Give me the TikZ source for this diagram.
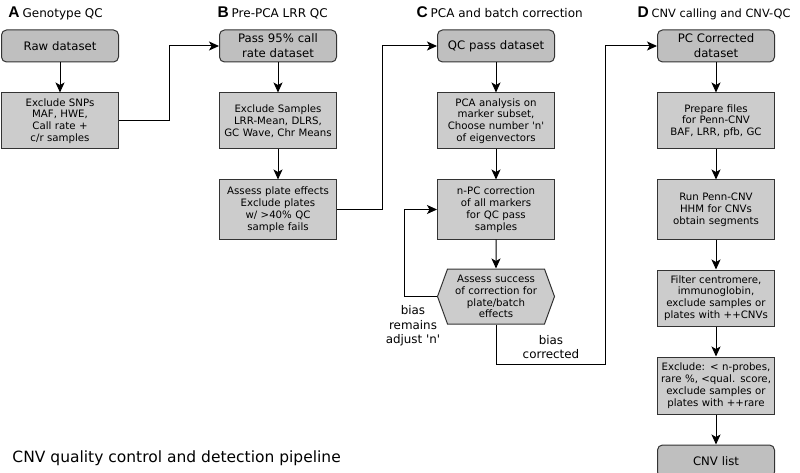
\documentclass[tikz,border=0pt]{standalone}
\usepackage{fontspec}
\setmainfont{DejaVu Sans}
\newfontfamily\letterfont{Liberation Sans}
\usepackage{tikz}
\usetikzlibrary{arrows.meta,positioning,shapes.symbols}
\definecolor{boxgray}{gray}{0.80}
\definecolor{topgray}{gray}{0.75}
\definecolor{edgegray}{gray}{0.2}
\tikzset{
    %Define standard arrow tip
    >={Stealth[length=10pt,width=9pt,inset=2.5pt]},
    % Define arrow style
    pil/.style={
           ->,
           line width=1pt},
    %Define style for the rounded data boxes
    datenbox/.style={
           rectangle,
           rounded corners=5pt,
           draw=edgegray, line width=1pt,
           fill=topgray,
           text width=115pt,
           minimum height=32pt,
           inner sep=1pt,
           align=center,
           font=\fontsize{11.7}{15}\selectfont},
    %Define style for the step boxes
    schritt/.style={
           rectangle,
           draw=edgegray, line width=1pt,
           fill=boxgray,
           text width=115pt,
           minimum height=56pt,
           inner sep=1pt,
           align=center,
           font=\fontsize{10.2}{11.8}\selectfont},
    % Define style for the decision hexagon
    pruefung/.style={
           signal, signal to=west and east,
           signal pointer angle=140,
           draw=edgegray, line width=1pt,
           fill=boxgray,
           minimum width=117pt,
           minimum height=55pt,
           text width=95pt,
           inner sep=0pt,
           align=center,
           font=\fontsize{10.2}{11.8}\selectfont},
    % Define header and label styles
    kopf/.style={anchor=base west, inner sep=0pt, font=\fontsize{12}{15}\selectfont},
    marke/.style={align=center, inner sep=0pt, font=\fontsize{11.9}{14.5}\selectfont}
}
\newcommand{\panel}[1]{{\letterfont\bfseries\fontsize{15.5}{18}\selectfont #1}\hspace{3pt}}

\begin{document}
\begin{tikzpicture}[pil,x=1pt,y=-1pt,node distance=30pt]
  \useasboundingbox (0,0) rectangle (800,473);

  % headers
  \node[kopf] (hA) at (8,18) {\panel{A}Genotype QC};
  \node[kopf] (hB) at (217,18) {\panel{B}Pre-PCA LRR QC};
  \node[kopf] (hC) at (416,18) {\panel{C}PCA and batch correction};
  \node[kopf,font=\fontsize{11.4}{15}\selectfont] (hD) at (637,18) {\panel{D}CNV calling and CNV-QC};

  % A: genotype QC
  \node[datenbox] (raw) at (60,46) {Raw dataset};
  \node[schritt] (exsnp) [below=of raw] {Exclude SNPs\\MAF, HWE,\\Call rate +\\c/r samples};

  % B: pre-PCA LRR QC
  \node[datenbox] (pass) at (278,46) {Pass 95\% call\\rate dataset};
  \node[schritt] (exsam) [below=of pass] {Exclude Samples\\LRR-Mean, DLRS,\\GC Wave, Chr Means};
  \node[schritt,minimum height=59pt] (plate) [below=of exsam] {Assess plate effects\\Exclude plates\\w/ >40\% QC\\sample fails};

  % C: PCA and batch correction
  \node[datenbox] (qcpass) at (496,46) {QC pass dataset};
  \node[schritt] (pca) [below=of qcpass] {PCA analysis on\\marker subset,\\Choose number \textquotesingle n\textquotesingle\\of eigenvectors};
  \node[schritt,minimum height=59pt] (npc) [below=of pca] {n-PC correction\\of all markers\\for QC pass\\samples};
  \node[pruefung] (assess) [below=29pt of npc] {Assess success\\of correction for\\plate/batch\\effects};

  % D: CNV calling and CNV-QC
  \node[datenbox] (pccorr) at (716,46) {PC Corrected\\dataset};
  \node[schritt] (prep) [below=of pccorr] {Prepare files\\for Penn-CNV\\BAF, LRR, pfb, GC};
  \node[schritt,minimum height=59pt] (penn) [below=of prep] {Run Penn-CNV\\HHM for CNVs\\obtain segments};
  \node[schritt] (filt) [below=of penn] {Filter centromere,\\immunoglobin,\\exclude samples or\\plates with ++CNVs};
  \node[schritt,minimum height=57pt] (excnv) [below=of filt] {Exclude: < n-probes,\\rare \%, <qual. score,\\exclude samples or\\plates with ++rare};
  \node[datenbox] (cnvlist) [below=of excnv] {CNV list};

  % labels
  \node[marke] (remain) at (413,326) {bias\\remains\\adjust \textquotesingle n\textquotesingle};
  \node[marke] (corr) at (551,347) {bias\\corrected};
  \node[anchor=base west, inner sep=0pt, font=\fontsize{15.5}{18}\selectfont] (title) at (12,462)
    {CNV quality control and detection pipeline};

  \coordinate (turn) at (605,364);

  \path
    (raw) edge (exsnp)
    (pass) edge (exsam)
    (exsam) edge (plate)
    (qcpass) edge (pca)
    (pca) edge (npc)
    (npc) edge (assess)
    (pccorr) edge (prep)
    (prep) edge (penn)
    (penn) edge (filt)
    (filt) edge (excnv)
    (excnv) edge (cnvlist);
  \draw (exsnp.east) -- ++(50,0) |- (pass.west);
  \draw (plate.east) -- ++(45,0) |- (qcpass.west);
  \draw (assess.west) -- ++(-32,0) |- (npc.west);
  \draw (assess.south) |- (turn) |- (pccorr.west);
\end{tikzpicture}
\end{document}
